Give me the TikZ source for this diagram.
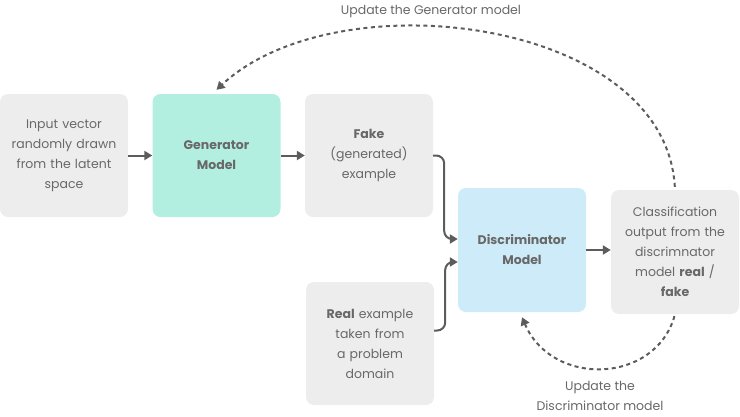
\documentclass[tikz,border=0pt]{standalone}
\usepackage{fontspec}
\setmainfont{Poppins}
\usetikzlibrary{arrows.meta,positioning}
\definecolor{boxgray}{RGB}{237,237,237}
\definecolor{genmint}{RGB}{179,239,224}
\definecolor{discblue}{RGB}{205,235,248}
\definecolor{txtgray}{RGB}{104,104,104}
\definecolor{arrgray}{RGB}{92,92,92}

\begin{document}
\begin{tikzpicture}[x=1pt,y=-1pt,font=\fontsize{12.5}{20}\selectfont,
    block/.style={rounded corners=8pt,minimum width=128pt,minimum height=123pt,
      text width=124pt,align=center,text=txtgray,inner sep=0pt},
    flow/.style={draw=arrgray,line width=2pt,-{Triangle[length=8pt,width=9pt]}},
    update/.style={flow,dash pattern=on 4pt off 3.5pt}]
  \useasboundingbox (0,0) rectangle (740,416);
  % Boxes
  \node[block,fill=boxgray] (input) at (64,155.5) {Input vector\\randomly drawn\\from the latent\\space};
  \node[block,fill=genmint] (gen) at (216.5,155.5) {\textbf{Generator}\\\textbf{Model}};
  \node[block,fill=boxgray] (fake) at (369,155.5) {\textbf{Fake}\\(generated)\\example};
  \node[block,fill=boxgray] (real) at (370,343.5) {\textbf{Real} example\\taken from\\a problem\\domain};
  \node[block,fill=discblue,minimum height=124pt] (disc) at (522,250) {\textbf{Discriminator}\\\textbf{Model}};
  \node[block,fill=boxgray,minimum height=124pt] (cls) at (675,252) {Classification\\output from the\\discrimnator\\model \textbf{real} /\\\textbf{fake}};
  % Labels of the update loops
  \node[text=txtgray] (genlbl) at (431,11) {Update the Generator model};
  \node[text=txtgray,align=center] (disclbl) at (600,396) {Update the\\Discriminator model};
  % Forward pass
  \draw[flow] (input) -- (gen);
  \draw[flow] (gen) -- (fake);
  \draw[flow,rounded corners=8pt] (fake.east) -- ++(11,0) |- ([yshift=11pt]disc.west);
  \draw[flow,rounded corners=8pt] ([yshift=13pt]real.east) -- ++(11,0) |- ([yshift=-12pt]disc.west);
  \draw[flow] (disc) -- (cls.west |- disc.east);
  % Feedback
  \draw[update,shorten <=3pt] (cls.north) .. controls +(-10,-172) and +(120,-112) .. ([yshift=4pt]gen.north);
  \draw[update,shorten <=2pt] (cls.south) .. controls +(-20,70) and +(30,70) .. ([yshift=-5pt]disc.south);
\end{tikzpicture}
\end{document}
